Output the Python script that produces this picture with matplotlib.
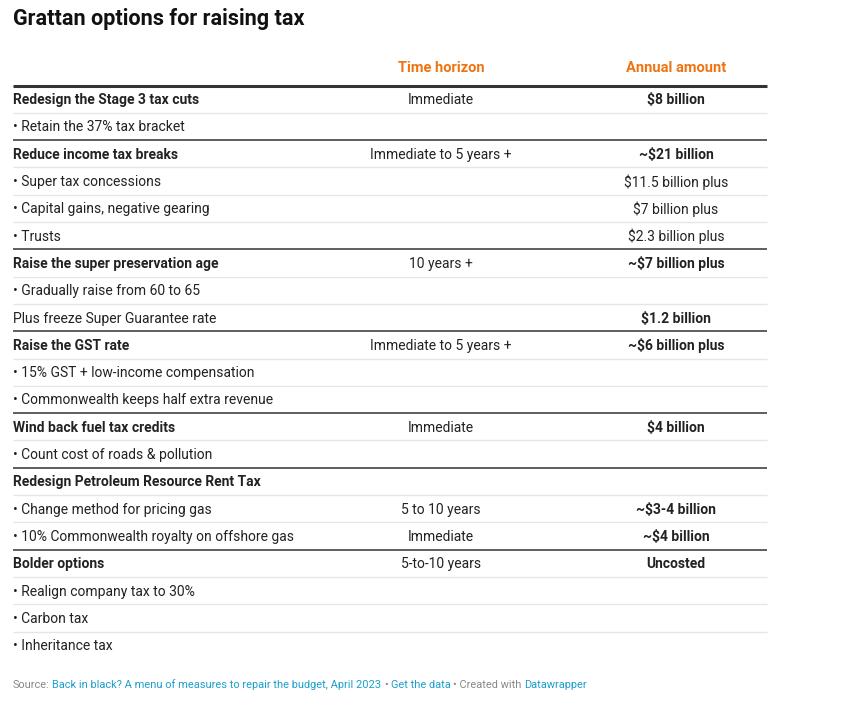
import matplotlib.pyplot as plt

plt.rcParams['font.family'] = ['Roboto', 'DejaVu Sans']

# Table data
labels = [
    'Redesign the Stage 3 tax cuts', '• Retain the 37% tax bracket',
    'Reduce income tax breaks', '• Super tax concessions',
    '• Capital gains, negative gearing', '• Trusts',
    'Raise the super preservation age', '• Gradually raise from 60 to 65',
    'Plus freeze Super Guarantee rate',
    'Raise the GST rate', '• 15% GST + low-income compensation',
    '• Commonwealth keeps half extra revenue',
    'Wind back fuel tax credits', '• Count cost of roads & pollution',
    'Redesign Petroleum Resource Rent Tax', '• Change method for pricing gas',
    '• 10% Commonwealth royalty on offshore gas',
    'Bolder options', '• Realign company tax to 30%', '• Carbon tax',
    '• Inheritance tax',
]
horizon = [
    'Immediate', '', 'Immediate to 5 years +', '', '', '',
    '10 years +', '', '', 'Immediate to 5 years +', '', '',
    'Immediate', '', '', '5 to 10 years', 'Immediate',
    '5-to-10 years', '', '', '',
]
amount = [
    '$8 billion', '', '~$21 billion', '$11.5 billion plus', '$7 billion plus',
    '$2.3 billion plus', '~$7 billion plus', '', '$1.2 billion',
    '~$6 billion plus', '', '', '$4 billion', '', '', '~$3-4 billion',
    '~$4 billion', 'Uncosted', '', '', '',
]
group_head = [1, 0, 1, 0, 0, 0, 1, 0, 0, 1, 0, 0, 1, 0, 1, 0, 0, 1, 0, 0, 0]
amount_bold = [1, 0, 1, 0, 0, 0, 1, 0, 1, 1, 0, 0, 1, 0, 0, 1, 1, 1, 0, 0, 0]

W, H = 851, 706
fig = plt.figure(figsize=(W / 100, H / 100), dpi=100)
ax = fig.add_axes([0, 0, 1, 1])
ax.set_xlim(0, W)
ax.set_ylim(H, 0)
ax.axis('off')

dark = '#222222'
orange = '#ef7411'
x0, x1 = 13, 767
xc_h, xc_a = 441, 676
top, pitch = 85.5, 27.3
dy = 1.0  # small text offset

ax.text(13, 18.5, 'Grattan options for raising tax', fontsize=15.6, fontweight='bold',
        color='#111111', va='center', ha='left')
ax.text(xc_h, 67 + dy, 'Time horizon', fontsize=10.5, fontweight='bold', color=orange,
        ha='center', va='center')
ax.text(xc_a, 67 + dy, 'Annual amount', fontsize=10.5, fontweight='bold', color=orange,
        ha='center', va='center')
ax.plot([x0, x1], [top, top], color='#333333', lw=2.2, solid_capstyle='butt')

for i, lab in enumerate(labels):
    yc = top + pitch * (i + 0.5) + dy
    yb = top + pitch * (i + 1)
    ax.text(x0, yc, lab, fontsize=10, color=dark, va='center', ha='left',
            fontweight='bold' if group_head[i] else 'normal')
    ax.text(xc_h, yc, horizon[i], fontsize=10, color=dark, va='center', ha='center')
    ax.text(xc_a, yc, amount[i], fontsize=10, color=dark, va='center', ha='center',
            fontweight='bold' if amount_bold[i] else 'normal')
    if i == len(labels) - 1:
        break
    if group_head[i + 1]:
        ax.plot([x0, x1], [yb, yb], color='#333333', lw=1.1, solid_capstyle='butt')
    else:
        ax.plot([x0, x1], [yb, yb], color='#e6e6e6', lw=1.0, solid_capstyle='butt')

# footer with mixed colours
parts = [
    ('Source: ', '#888888'),
    ('Back in black? A menu of measures to repair the budget, April 2023', '#1c9fcc'),
    (' • ', '#888888'), ('Get the data', '#1c9fcc'),
    (' • Created with ', '#888888'), ('Datawrapper', '#1c9fcc'),
]
r = fig.canvas.get_renderer()


def text_w(s):
    t = ax.text(0, 0, s, fontsize=7.9)
    w = t.get_window_extent(renderer=r).width
    t.remove()
    return w


wx = text_w('xx')
prefix = ''
for s, c in parts:
    lead = s[:len(s) - len(s.lstrip())]
    off = text_w('x' + prefix + lead + 'x') - wx
    ax.text(13 + off, 685, s.strip(), fontsize=7.9, color=c, va='center', ha='left')
    prefix += s

fig.savefig('out.png', dpi=100)
